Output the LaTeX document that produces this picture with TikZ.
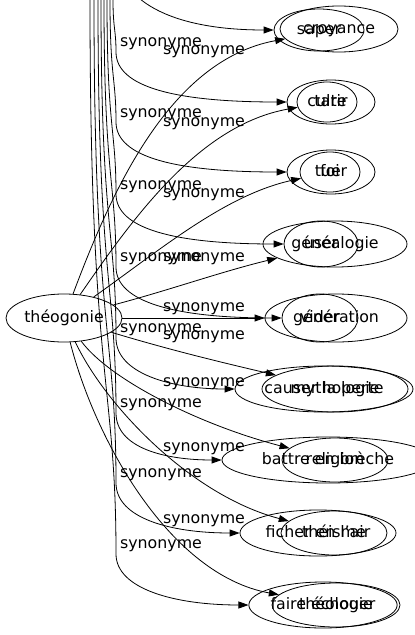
\documentclass[tikz,border=0pt]{standalone}
\usepackage{fontspec}
\setmainfont{DejaVu Sans}
\usetikzlibrary{shapes.geometric,arrows.meta}
\newcommand\gvfont{\fontsize{15.8}{18}\selectfont}
\begin{document}
\begin{tikzpicture}[x=1pt,y=-1pt,
 nd/.style={ellipse,draw,line width=0.8pt,inner sep=0pt,font=\gvfont,text height=12pt,text depth=3.8pt},
 lab/.style={inner sep=0pt,font=\gvfont,text height=12pt,text depth=3.8pt},
 edge/.style={line width=0.8pt,-{Triangle[length=10pt,width=7pt]}}]
\useasboundingbox (0,0) rectangle (415,635);
\clip (0,0) rectangle (415,635);
% centre node
\node[nd,minimum width=116pt,minimum height=48pt] (theo) at (64,318) {théogonie};
% row 1
\node[nd,minimum width=90pt,minimum height=42pt] (saper) at (319,30) {saper};
\node[nd,minimum width=118pt,minimum height=46pt] (croy) at (339,29) {croyance};
% row 2
\node[nd,minimum width=88pt,minimum height=44pt] (tarir) at (331,102) {tarir};
\node[nd,minimum width=60pt,minimum height=40pt] (culte) at (327,102) {culte};
% row 3
\node[nd,minimum width=88pt,minimum height=44pt] (tuer) at (331,172) {tuer};
\node[nd,minimum width=60pt,minimum height=40pt] (foi) at (330,172) {foi};
% row 4
\node[nd,minimum width=74pt,minimum height=46pt] (user) at (321,244) {user};
\node[nd,minimum width=144pt,minimum height=46pt] (genea) at (335,244) {généalogie};
% row 5
\node[nd,minimum width=76pt,minimum height=48pt] (vider) at (320,318) {vider};
\node[nd,minimum width=142pt,minimum height=48pt] (gener) at (336,318) {génération};
% row 6
\node[nd,minimum width=178pt,minimum height=46pt] (causer) at (324,389) {causer la perte};
\node[nd,minimum width=146pt,minimum height=46pt] (myth) at (335,389) {mythologie};
% row 7
\node[nd,minimum width=212pt,minimum height=46pt] (battre) at (328,460) {battre en brèche};
\node[nd,minimum width=106pt,minimum height=44pt] (relig) at (335,460) {religion};
% row 8
\node[nd,minimum width=156pt,minimum height=46pt] (ficher) at (318,533) {ficher en l'air};
\node[nd,minimum width=106pt,minimum height=44pt] (theisme) at (334,533) {théisme};
% row 9
\node[nd,minimum width=148pt,minimum height=46pt] (faire) at (323,605) {faire échouer};
\node[nd,minimum width=128pt,minimum height=44pt] (theol) at (336,605) {théologie};

% labels of the théogonie edges
\node[lab] (la1) at (204,50) {synonyme};
\node[lab] (la2) at (204,122) {synonyme};
\node[lab] (la3) at (204,193) {synonyme};
\node[lab] (la4) at (204,257) {synonyme};
\node[lab] (la5) at (204,307) {synonyme};
\node[lab] (la6) at (204,335) {synonyme};
\node[lab] (la7) at (204,382) {synonyme};
\node[lab] (la8) at (204,447) {synonyme};
\node[lab] (la9) at (204,519) {synonyme};
% labels of the other edges
\node[lab] (lb2) at (161,42) {synonyme};
\node[lab] (lb3) at (161,113) {synonyme};
\node[lab] (lb4) at (161,185) {synonyme};
\node[lab] (lb5) at (161,257) {synonyme};
\node[lab] (lb6) at (161,328) {synonyme};
\node[lab] (lb7) at (161,403) {synonyme};
\node[lab] (lb8) at (161,473) {synonyme};
\node[lab] (lb9) at (161,544) {synonyme};

% edges from théogonie
\draw[edge] (theo) .. controls (112,190) and (170,60) .. (croy);
\draw[edge] (theo) .. controls (135,215) and (200,125) .. (culte);
\draw[edge] (theo) .. controls (160,250) and (225,195) .. (foi);
\draw[edge] (theo) .. controls (170,290) and (220,272) .. (genea);
\draw[edge] (theo) -- (gener);
\draw[edge] (theo) .. controls (170,350) and (220,362) .. (myth);
\draw[edge] (theo) .. controls (110,380) and (200,425) .. (relig);
\draw[edge] (theo) .. controls (105,405) and (190,495) .. (theisme);
\draw[edge] (theo) .. controls (95,440) and (170,575) .. (theol);

% edges coming from above the picture
\coordinate (t1) at (116,-50);
\coordinate (t2) at (113,0);
\coordinate (t3) at (110,0);
\coordinate (t4) at (107,0);
\coordinate (t5) at (104,0);
\coordinate (t6) at (101,0);
\coordinate (t7) at (98,0);
\coordinate (t8) at (94,0);
\coordinate (t9) at (90,0);
\draw[edge] (t1) .. controls (116,0) and (170,30) .. (saper);
\draw[edge] (t2) .. controls (113,29) and (116,29) .. (116,52) .. controls (116,87) and (175,102) .. (tarir);
\draw[edge] (t3) .. controls (110,78) and (116,78) .. (116,122) .. controls (116,157) and (175,172) .. (tuer);
\draw[edge] (t4) .. controls (107,129) and (116,129) .. (116,194) .. controls (116,229) and (175,244) .. (user);
\draw[edge] (t5) .. controls (104,180) and (116,180) .. (116,267) .. controls (116,302) and (175,318) .. (vider);
\draw[edge] (t6) .. controls (101,230) and (116,230) .. (116,338) .. controls (116,373) and (170,389) .. (causer);
\draw[edge] (t7) .. controls (98,282) and (116,282) .. (116,413) .. controls (116,448) and (165,460) .. (battre);
\draw[edge] (t8) .. controls (94,331) and (116,331) .. (116,483) .. controls (116,518) and (170,533) .. (ficher);
\draw[edge] (t9) .. controls (90,381) and (116,381) .. (116,554) .. controls (116,589) and (175,605) .. (faire);
\end{tikzpicture}
\end{document}
